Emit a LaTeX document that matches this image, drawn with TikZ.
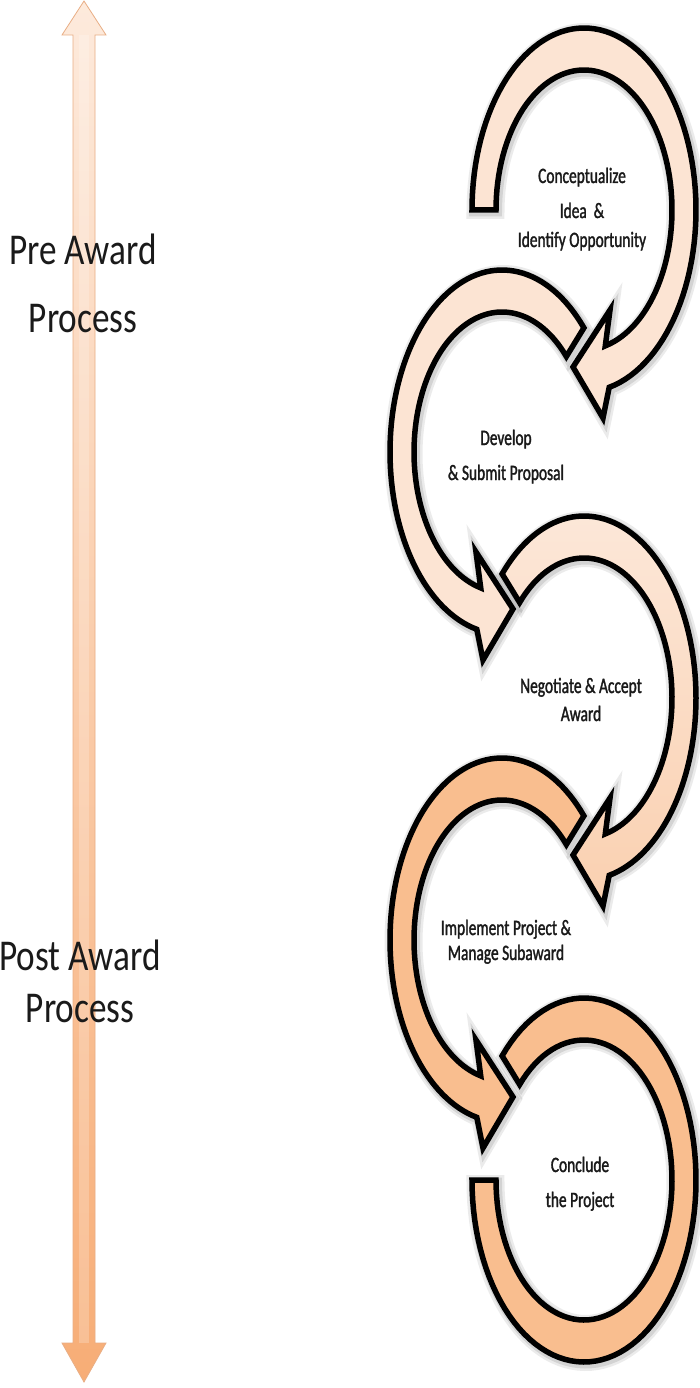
\documentclass[tikz,border=0pt]{standalone}
\usepackage{fontspec}
\setmainfont{Carlito}
\newfontfamily\sidefont[FakeStretch=0.8]{Carlito}
\newfontfamily\stepfont[FakeStretch=0.7, FakeBold=1.4]{Carlito}
\definecolor{vtop}{HTML}{FDEADC}
\definecolor{vbot}{HTML}{F7AD76}
\definecolor{vedge}{HTML}{E9AE85}
\definecolor{peachA}{HTML}{FCE4D3}
\definecolor{peachB}{HTML}{FCE7D8}
\definecolor{peachC}{HTML}{FAD0B0}
\definecolor{orangeD}{HTML}{F9BE8F}
\definecolor{txt}{HTML}{1A1A1A}
\tikzset{
  ring/.style={draw=black, line width=5.5pt, line join=miter, miter limit=6,
    preaction={draw=black, opacity=0.08, line width=14pt, transform canvas={xshift=1.5pt, yshift=-2pt}},
    preaction={draw=black, opacity=0.10, line width=9pt, transform canvas={xshift=1.5pt, yshift=-2pt}}},
  steptext/.style={anchor=base, text=txt, font=\stepfont\fontsize{22}{29}\selectfont, inner sep=0pt},
  sidetext/.style={anchor=base, text=txt, font=\sidefont\fontsize{44}{55}\selectfont, inner sep=0pt}
}
\begin{document}
\begin{tikzpicture}[x=1pt,y=-1pt]
\useasboundingbox (0,0) rectangle (700,1388);
\fill[white] (0,0) rectangle (700,1388);

% vertical double arrow
\shadedraw[top color=vtop, bottom color=vbot, draw=vedge, line width=0.8pt, line join=miter]
  (84,1) -- (106,35) -- (95,35) -- (95,1343) -- (106,1343) -- (84,1382)
  -- (62,1343) -- (73,1343) -- (73,35) -- (62,35) -- cycle;
\fill[white, opacity=0.22] (79,35) rectangle (89,1343);

% arrow 1
\draw[ring, fill=peachA]
  plot[domain=180:437, samples=90, variable=\t] ({584+112*cos(\t)},{210+182*sin(\t)})
  -- (603,418) -- (573,367) -- (610,310)
  -- plot[domain=436:180, samples=90, variable=\t] ({584+88*cos(\t)},{210+140*sin(\t)})
  -- cycle;

% arrow 2
\draw[ring, fill=peachA]
  plot[domain=317:103, samples=90, variable=\t] ({502+112*cos(\t)},{452+182*sin(\t)})
  -- (483,660) -- (513,609) -- (476,552)
  -- plot[domain=104:317, samples=90, variable=\t] ({502+88*cos(\t)},{452+140*sin(\t)})
  -- cycle;

% arrow 3
\draw[ring, top color=peachB, bottom color=peachC]
  plot[domain=223:437, samples=90, variable=\t] ({584+112*cos(\t)},{698+182*sin(\t)})
  -- (603,906) -- (573,855) -- (610,798)
  -- plot[domain=436:223, samples=90, variable=\t] ({584+88*cos(\t)},{698+140*sin(\t)})
  -- cycle;

% arrow 4
\draw[ring, fill=orangeD]
  plot[domain=317:103, samples=90, variable=\t] ({502+112*cos(\t)},{940+182*sin(\t)})
  -- (483,1148) -- (513,1097) -- (476,1040)
  -- plot[domain=104:317, samples=90, variable=\t] ({502+88*cos(\t)},{940+140*sin(\t)})
  -- cycle;

% arrow 5
\draw[ring, fill=orangeD]
  plot[domain=223:540, samples=100, variable=\t] ({584+112*cos(\t)},{1180+182*sin(\t)})
  -- plot[domain=540:223, samples=100, variable=\t] ({584+88*cos(\t)},{1180+140*sin(\t)})
  -- cycle;

% step labels
\node[steptext] (s1) at (582,183) {\begin{tabular}[t]{@{}c@{}}Conceptualize\\[6pt]Idea~ \&\\Identify Opportunity\end{tabular}};
\node[steptext] (s2) at (506,445) {\begin{tabular}[t]{@{}c@{}}Develop\\[6pt]\& Submit Proposal\end{tabular}};
\node[steptext] (s3) at (581,693) {\begin{tabular}[t]{@{}c@{}}Negotiate \& Accept\\[-1pt]Award\end{tabular}};
\node[steptext] (s4) at (506,935) {\begin{tabular}[t]{@{}c@{}}Implement Project \&\\[-4pt]Manage Subaward\end{tabular}};
\node[steptext] (s5) at (580,1172) {\begin{tabular}[t]{@{}c@{}}Conclude\\[6pt]the Project\end{tabular}};

% side labels
\node[sidetext] (pre) at (83,265) {\begin{tabular}[t]{@{}c@{}}Pre Award\\[12pt]Process\end{tabular}};
\node[sidetext] (post) at (80,970) {\begin{tabular}[t]{@{}c@{}}Post Award\\[-3pt]Process\end{tabular}};
\end{tikzpicture}
\end{document}
